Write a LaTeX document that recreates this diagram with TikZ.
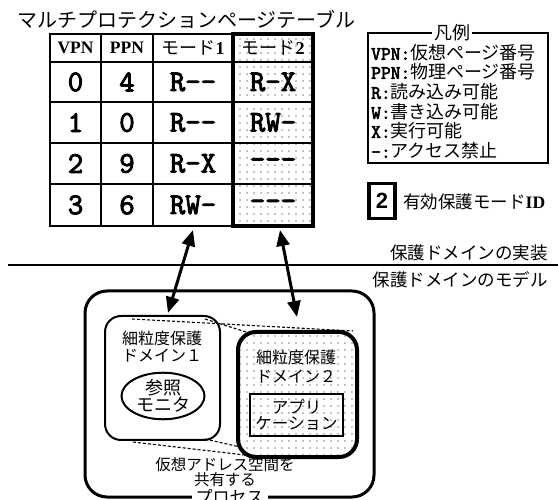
\documentclass[tikz,border=0pt]{standalone}
\usepackage{fontspec}
\setmainfont{Liberation Serif}
\newfontfamily\jp{Noto Sans CJK JP}
\newfontfamily\mono[FakeBold=3]{Latin Modern Mono}
\newfontfamily\ssf{Liberation Sans}
\usetikzlibrary{arrows.meta,patterns.meta,shapes.geometric}
\newcommand\myfs[1]{\fontsize{#1}{#1}\selectfont}
\begin{document}
\begin{tikzpicture}[x=1pt,y=-1pt,
  txt/.style={inner sep=0pt},
  cell/.style={inner sep=0pt, font=\mono\myfs{30}},
  hdr/.style={inner sep=0pt, font=\bfseries\myfs{17.5}},
  arr/.style={line width=3pt, {Triangle[length=16pt,width=13pt]}-{Triangle[length=16pt,width=13pt]}},
  dotsfill/.style={pattern={Dots[distance=6.5pt,radius=0.7pt]}},
  guide/.style={dash pattern=on 3pt off 2pt, line width=1.1pt},
  lg/.style={inner sep=0pt, anchor=west, font=\jp\myfs{18}}]
\useasboundingbox[fill=white] (0,0) rectangle (558,500);

% title
\node[txt, anchor=west, font=\jp\myfs{20}] (title) at (17,19) {マルチプロテクションページテーブル};

% table
\fill[white] (233,34) rectangle (313,226);
\path[dotsfill] (233,34) rectangle (313,226);
\foreach \yy in {62,102,143,184} \draw[line width=1.5pt] (50,\yy) -- (313,\yy);
\foreach \xx in {101,153} \draw[line width=1.5pt] (\xx,34) -- (\xx,226);
\draw[line width=2.5pt] (50,34) rectangle (233,226);
\draw[line width=4.5pt] (233,34) rectangle (313,226);

\node[hdr] (h1) at (75.5,48) {VPN};
\node[hdr] (h2) at (127,48) {PPN};
\node[txt] (h3) at (193,48) {\jp\myfs{18}モード\rmfamily\bfseries 1};
\node[txt] (h4) at (273,48) {\jp\myfs{18}モード\rmfamily\bfseries 2};

\node[cell] (c01) at (75.5,82) {0};
\node[cell] (c02) at (127,82) {4};
\node[cell] (c03) at (193,82) {R--};
\node[cell] (c04) at (273,82) {R-X};
\node[cell] (c11) at (75.5,122.5) {1};
\node[cell] (c12) at (127,122.5) {0};
\node[cell] (c13) at (193,122.5) {R--};
\node[cell] (c14) at (273,122.5) {RW-};
\node[cell] (c21) at (75.5,163.5) {2};
\node[cell] (c22) at (127,163.5) {9};
\node[cell] (c23) at (193,163.5) {R-X};
\node[cell] (c24) at (273,163.5) {---};
\node[cell] (c31) at (75.5,205) {3};
\node[cell] (c32) at (127,205) {6};
\node[cell] (c33) at (193,205) {RW-};
\node[cell] (c34) at (273,205) {---};

% legend
\draw[line width=1.2pt] (368,33) rectangle (548,163);
\node[txt, fill=white, inner xsep=2pt, font=\jp\myfs{18}] (lgt) at (452,33) {凡例};
\node[lg] (l1) at (371,53) {{\mono\myfs{19}VPN:}仮想ページ番号};
\node[lg] (l2) at (371,72) {{\mono\myfs{19}PPN:}物理ページ番号};
\node[lg] (l3) at (371,92) {{\mono\myfs{19}R:}読み込み可能};
\node[lg] (l4) at (371,112) {{\mono\myfs{19}W:}書き込み可能};
\node[lg] (l5) at (371,131) {{\mono\myfs{19}X:}実行可能};
\node[lg] (l6) at (371,151) {{\mono\myfs{19}-:}アクセス禁止};

% active mode id
\node[draw, line width=3.5pt, minimum width=26pt, minimum height=35pt, inner sep=0pt, font=\ssf\bfseries\myfs{22}] (mid) at (382,201) {2};
\node[txt, anchor=west, font=\jp\myfs{17.5}] (midl) at (403,202) {有効保護モード\rmfamily\bfseries ID};

% separator
\node[txt, anchor=east, font=\jp\myfs{17.5}] (impl) at (548,253) {保護ドメインの実装};
\draw[line width=2pt] (8,265) coordinate (s1) -- (558,265) coordinate (s2);
\node[txt, anchor=east, font=\jp\myfs{17.5}] (model) at (548,280) {保護ドメインのモデル};

% process
\draw[line width=3pt, rounded corners=22pt] (85,291) rectangle (374,497);
\node[txt, fill=white, inner xsep=4pt, inner ysep=2pt, font=\jp\myfs{17}] (proc) at (229.5,497) {プロセス};
\node[txt, align=center, font=\jp\fontsize{15.5}{14}\selectfont] (share) at (225,472) {仮想アドレス空間を\\共有する};

% guide lines
\coordinate (g1a) at (132,319); \coordinate (g1b) at (353,331);
\coordinate (g2a) at (205,319); \coordinate (g2b) at (262,337);
\coordinate (g3a) at (133,442); \coordinate (g3b) at (262,457);
\coordinate (g4a) at (205,439); \coordinate (g4b) at (262,452);
\draw[guide] (g1a) -- (g1b);
\draw[guide] (g2a) -- (g2b);
\draw[guide] (g3a) -- (g3b);
\draw[guide] (g4a) -- (g4b);

% domain 1
\draw[line width=2pt, rounded corners=16pt] (105,316) rectangle (220,440);
\node[txt, align=center, font=\jp\fontsize{16}{17}\selectfont] (d1) at (162,347) {細粒度保護\\ドメイン１};
\node[draw, ellipse, line width=2pt, minimum width=83pt, minimum height=40pt, inner sep=0pt, align=center, font=\jp\fontsize{18}{17}\selectfont] (ref) at (163,396) {参照\\モニタ};

% domain 2
\draw[line width=4pt, rounded corners=18pt, preaction={fill=white}, dotsfill] (238,332) rectangle (357,457);
\node[txt, align=center, font=\jp\fontsize{16}{19}\selectfont] (d2) at (296,367) {細粒度保護\\ドメイン２};
\node[draw, line width=2.5pt, minimum width=93pt, minimum height=42pt, inner sep=0pt, align=center, font=\jp\fontsize{16.5}{16.5}\selectfont] (app) at (296.5,415) {アプリ\\ケーション};

% arrows
\coordinate (a1) at (193,230); \coordinate (a2) at (168,313);
\coordinate (b1) at (280,230); \coordinate (b2) at (297,317);
\draw[arr] (a1) -- (a2);
\draw[arr] (b1) -- (b2);
\end{tikzpicture}
\end{document}
